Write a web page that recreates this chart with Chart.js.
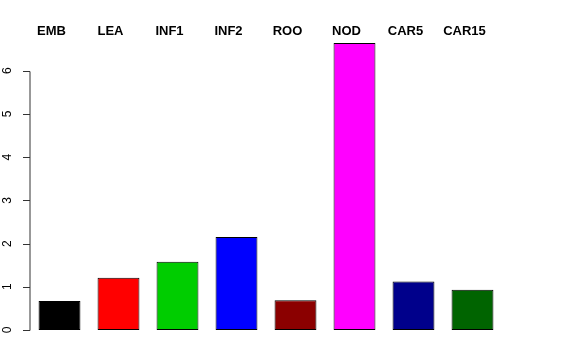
<!DOCTYPE html>
<html>
<head>
<meta charset="utf-8">
<script src="https://cdn.jsdelivr.net/npm/chart.js@4/dist/chart.umd.min.js"></script>
<style>
    html, body { margin: 0; padding: 0; background: #fff; }
    #wrap { width: 576px; height: 360px; }
</style>
</head>
<body>
<div id="wrap"><canvas id="myChart"></canvas></div>
<script>
const categories = ['EMB', 'LEA', 'INF1', 'INF2', 'ROO', 'NOD', 'CAR5', 'CAR15'];
const values = [0.67, 1.21, 1.58, 2.15, 0.69, 6.64, 1.12, 0.93];
const barColors = ['#000000', '#FF0000', '#00CD00', '#0000FF', '#8B0000', '#FF00FF', '#00008B', '#006400'];
const yTicks = [0, 1, 2, 3, 4, 5, 6];

// R style left axis: line from first to last tick, rotated labels
const rAxis = {
    id: 'rAxis',
    afterDraw(chart) {
        const ctx = chart.ctx;
        const y = chart.scales.y;
        const x0 = chart.chartArea.left;
        ctx.save();
        ctx.strokeStyle = '#333';
        ctx.lineWidth = 1;
        ctx.beginPath();
        ctx.moveTo(x0, Math.round(y.getPixelForValue(yTicks[0])) + 0.5);
        ctx.lineTo(x0, Math.round(y.getPixelForValue(yTicks[yTicks.length - 1])) + 0.5);
        yTicks.forEach(t => {
            const py = Math.round(y.getPixelForValue(t)) + 0.5;
            ctx.moveTo(x0, py);
            ctx.lineTo(x0 - 7, py);
        });
        ctx.stroke();
        ctx.fillStyle = '#000';
        ctx.font = '12px "Liberation Sans", Arial, sans-serif';
        ctx.textAlign = 'center';
        ctx.textBaseline = 'middle';
        yTicks.forEach(t => {
            const py = y.getPixelForValue(t);
            ctx.save();
            ctx.translate(8, py);
            ctx.rotate(-Math.PI / 2);
            ctx.fillText(String(t), 0, 0);
            ctx.restore();
        });
        ctx.restore();
    }
};

const ctx = document.getElementById('myChart').getContext('2d');
new Chart(ctx, {
    type: 'bar',
    data: {
        labels: categories,
        datasets: [{
            data: values,
            backgroundColor: barColors,
            borderColor: '#000',
            borderWidth: 1,
            borderSkipped: false,
            barPercentage: 0.71,
            categoryPercentage: 1
        }]
    },
    options: {
        responsive: true,
        maintainAspectRatio: false,
        animation: false,
        layout: { padding: { left: 0, right: 74, top: 0, bottom: 30 } },
        plugins: {
            legend: { display: false },
            tooltip: { enabled: false }
        },
        scales: {
            x: {
                position: 'top',
                grid: { display: false, drawTicks: false },
                border: { display: false },
                ticks: {
                    color: '#000',
                    font: { family: '"Liberation Sans", Arial, sans-serif', size: 13, weight: 'bold' },
                    labelOffset: -8,
                    padding: 4,
                    maxRotation: 0
                },
                afterFit(scale) { scale.height = 43; }
            },
            y: {
                min: 0,
                max: Math.max(...values),
                grid: { display: false },
                border: { display: false },
                ticks: { display: false },
                afterFit(scale) { scale.width = 30; }
            }
        }
    },
    plugins: [rAxis]
});
</script>
</body>
</html>
